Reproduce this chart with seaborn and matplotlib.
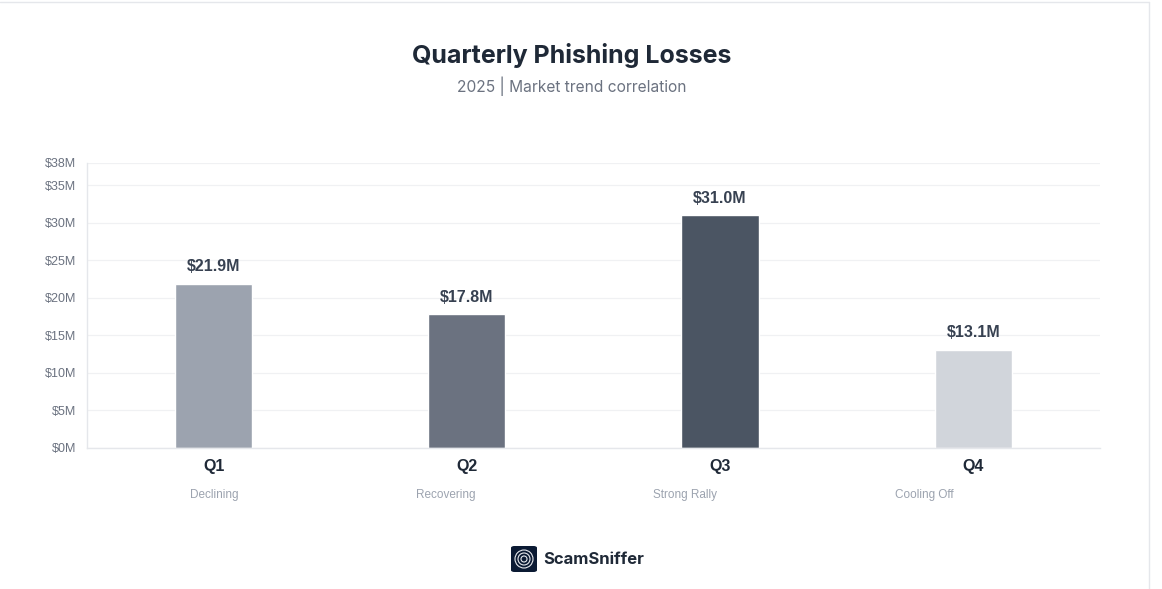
import matplotlib
matplotlib.use("Agg")
import matplotlib.pyplot as plt
import seaborn as sns
import pandas as pd
from matplotlib.patches import FancyBboxPatch, Ellipse
from matplotlib.lines import Line2D

quarters = ["Q1", "Q2", "Q3", "Q4"]
losses = [21.9, 17.8, 31.0, 13.1]
trends = ["Declining", "Recovering", "Strong Rally", "Cooling Off"]
bar_colors = ["#9CA3AF", "#6B7280", "#4B5563", "#D1D5DB"]
y_ticks = [0, 5, 10, 15, 20, 25, 30, 35, 38]

df = pd.DataFrame({"quarter": quarters, "loss": losses})

sns.set_style("white")
plt.rcParams["font.family"] = ["Liberation Sans", "DejaVu Sans"]

W, H = 1162, 589
fig = plt.figure(figsize=(11.62, 5.89), dpi=100)
ax = fig.add_axes([0.0749, 0.2394, 0.8717, 0.4839])

sns.barplot(data=df, x="quarter", y="loss", hue="quarter", palette=bar_colors,
            width=0.305, legend=False, ax=ax, saturation=1)

ax.set_ylim(0, 38)
ax.set_yticks(y_ticks)
ax.set_yticklabels([f"${t}M" for t in y_ticks], color="#6B7280", fontsize=9)
ax.set_xticklabels([])
ax.set_xlabel("")
ax.set_ylabel("")
ax.tick_params(axis="both", length=0, pad=8)
ax.yaxis.grid(True, color="#F0F1F3", linewidth=0.9)
ax.set_axisbelow(True)
for side in ["top", "right"]:
    ax.spines[side].set_visible(False)
for side in ["left", "bottom"]:
    ax.spines[side].set_color("#E5E7EB")
    ax.spines[side].set_linewidth(1)

# value labels and category labels
for i, (q, v) in enumerate(zip(quarters, losses)):
    ax.text(i, v + 1.3, f"${v:.1f}M", ha="center", va="bottom",
            fontsize=11.5, fontweight="bold", color="#374151")
    ax.text(i, -1.5, q, ha="center", va="top", fontsize=11.5,
            fontweight="bold", color="#1F2937")

trend_x = [214.5, 446, 685, 924]
for tx, t in zip(trend_x, trends):
    fig.text(tx / W, 1 - 495 / H, t, ha="center", va="center",
             fontsize=8.5, color="#9CA3AF")

# titles
fig.text(572 / W, 1 - 55 / H, "Quarterly Phishing Losses", ha="center",
         va="center", fontsize=18, fontweight="bold", color="#1F2937",
         family=["Inter", "DejaVu Sans"])
fig.text(572 / W, 1 - 86 / H, "2025 | Market trend correlation", ha="center",
         va="center", fontsize=11.2, color="#6B7280", family=["Inter", "DejaVu Sans"])

# logo
icon = FancyBboxPatch((511 / W, 1 - 572 / H), 26 / W, 26 / H,
                      boxstyle="round,pad=0,rounding_size=0.003",
                      transform=fig.transFigure, facecolor="#0B1A33",
                      edgecolor="none")
fig.patches.append(icon)
cx, cy = 524 / W, 1 - 559 / H
for r in [9, 6, 3]:
    fig.patches.append(Ellipse((cx, cy), 2 * r / W, 2 * r / H,
                               transform=fig.transFigure, facecolor="none",
                               edgecolor="#E5E7EB", linewidth=0.8))
fig.text(543 / W, 1 - 559 / H, "ScamSniffer", ha="left", va="center",
         fontsize=12, fontweight="bold", color="#1F2937",
         family=["Inter", "DejaVu Sans"])

# faint top and right edges
fig.lines.append(Line2D([0, 1149 / W], [1 - 1.5 / H, 1 - 1.5 / H],
                        transform=fig.transFigure, color="#E5E7EB", linewidth=1))
fig.lines.append(Line2D([1149 / W, 1149 / W], [0, 1 - 1.5 / H],
                        transform=fig.transFigure, color="#E5E7EB", linewidth=1))

fig.savefig("out.png", dpi=100, facecolor="white")
